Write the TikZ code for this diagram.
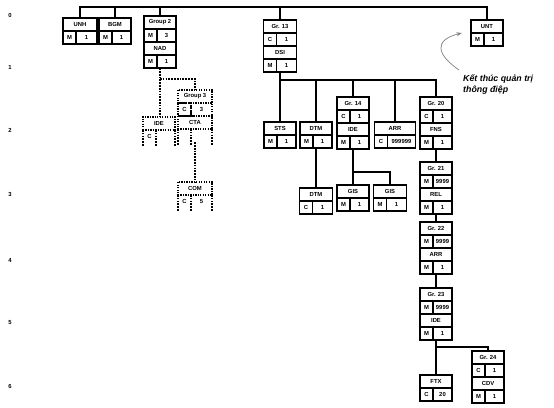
\documentclass[tikz,border=0pt]{standalone}
\usepackage{fontspec}
\setmainfont{Liberation Sans}
\usetikzlibrary{arrows.meta,fit}
\tikzset{
  ln/.style={line width=1.2pt},
  opt/.style={densely dotted,line width=1.4pt},
  hd/.style={draw,line width=1.1pt,inner sep=0pt,outer sep=0pt,minimum height=13*0.03cm,font=\fontsize{5}{6}\selectfont\bfseries},
  cel/.style={hd},
  lead/.style={gray,line width=0.6pt,-{Stealth[length=1.6mm]}},
  note/.style={align=left,inner sep=0pt,font=\fontsize{7.5}{9}\selectfont\bfseries\itshape},
  lvl/.style={font=\fontsize{5}{6}\selectfont\bfseries}
}
% segment box: [width] name, (top centre), label, status, repeat
\newcommand{\segbox}[6][32]{%
  \node[hd,minimum width={#1*0.03cm},anchor=north] (#2h) at #3 {#4};
  \node[cel,minimum width={13*0.03cm},anchor=north west] (#2s) at (#2h.south west) {#5};
  \node[cel,minimum width={(#1-13)*0.03cm},anchor=north west] (#2r) at (#2s.north east) {#6};
  \node[fit=(#2h)(#2s)(#2r),inner sep=0pt] (#2) {};}
% same, dotted and open at the bottom (conditional)
\newcommand{\osegbox}[6][32]{%
  \node[hd,opt,minimum width={#1*0.03cm},anchor=north] (#2h) at #3 {#4};
  \node[cel,draw=none,minimum width={13*0.03cm},anchor=north west] (#2s) at (#2h.south west) {#5};
  \node[cel,draw=none,minimum width={(#1-13)*0.03cm},anchor=north west] (#2r) at (#2s.north east) {#6};
  \node[fit=(#2h)(#2s)(#2r),inner sep=0pt] (#2) {};
  \draw[opt] (#2s.north west) -- ++(0,16) (#2s.north east) -- ++(0,16) (#2r.north east) -- ++(0,16);}

\begin{document}
\begin{tikzpicture}[x=0.03cm,y=-0.03cm]
\useasboundingbox (0,0) rectangle (554,407);
\foreach \i/\y in {0/15,1/67,2/130,3/194,4/260,5/323,6/386}
  \node[lvl] (lv\i) at (10,\y) {\i};

% level 0
\segbox[34]{unh}{(80,18)}{UNH}{M}{1}
\segbox{bgm}{(115,18)}{BGM}{M}{1}
\segbox{gp2}{(160,16)}{Group 2}{M}{3}
\segbox{nad}{(gp2h.south |- gp2s.south)}{NAD}{M}{1}
\segbox[33]{gr13}{(280,20)}{Gr. 13}{C}{1}
\segbox[33]{dsi}{(gr13h.south |- gr13s.south)}{DSI}{M}{1}
\segbox{unt}{(487,20)}{UNT}{M}{1}

% group 2 (conditional)
\osegbox{ide1}{(159,117)}{IDE}{C}{}
\begin{scope}[hd/.append style={opt}]
\segbox[34]{gp3}{(195,90)}{Group 3}{C}{3}
\end{scope}
\osegbox[34]{cta}{(gp3h.south |- gp3s.south)}{CTA}{}{}
\osegbox[34]{com}{(195,182)}{COM}{C}{5}

% group 13
\segbox{sts}{(280,122)}{STS}{M}{1}
\segbox{dtm}{(316,122)}{DTM}{M}{1}
\segbox{gr14}{(353,97)}{Gr. 14}{C}{1}
\segbox{ide2}{(gr14h.south |- gr14s.south)}{IDE}{M}{1}
\segbox[41]{arr}{(395,122)}{ARR}{C}{999999}
\segbox{gr20}{(436,97)}{Gr. 20}{C}{1}
\segbox{fns}{(gr20h.south |- gr20s.south)}{FNS}{M}{1}
\segbox[33]{dtm2}{(316,188)}{DTM}{C}{1}
\segbox{gis1}{(353,185)}{GIS}{M}{1}
\segbox[33]{gis2}{(390,185)}{GIS}{M}{1}
\segbox{gr21}{(436,162)}{Gr. 21}{M}{9999}
\segbox{rel}{(gr21h.south |- gr21s.south)}{REL}{M}{1}
\segbox{gr22}{(436,222)}{Gr. 22}{M}{9999}
\segbox{arr2}{(gr22h.south |- gr22s.south)}{ARR}{M}{1}
\segbox{gr23}{(436,288)}{Gr. 23}{M}{9999}
\segbox{ide3}{(gr23h.south |- gr23s.south)}{IDE}{M}{1}
\segbox{ftx}{(436,375)}{FTX}{C}{20}
\segbox{gr24}{(488,351)}{Gr. 24}{C}{1}
\segbox{cdv}{(gr24h.south |- gr24s.south)}{CDV}{M}{1}

% connectors
\coordinate (rt) at (0,7);
\coordinate (j2) at (0,79);
\coordinate (j13) at (0,80);
\coordinate (j14) at (0,172);
\coordinate (j23) at (0,347);
\draw[ln] (unh.north) -- (unh.north |- rt) -| (unt.north);
\foreach \b in {bgm,gp2,gr13}
  \draw[ln] (\b.north) -- (\b.north |- rt);
\draw[opt] (nad.south) -- (nad.south |- ide1.north);
\draw[opt] (nad.south |- j2) -| (gp3.north);
\draw[opt] (cta.south) -- (com.north);
\draw[ln] (dsi.south) -- (dsi.south |- j13) -| (gr20.north);
\foreach \b in {sts,dtm,gr14,arr}
  \draw[ln] (\b.north) -- (\b.north |- j13);
\draw[ln] (dtm.south) -- (dtm2.north);
\draw[ln] (ide2.south) -- (gis1.north);
\draw[ln] (ide2.south |- j14) -| (gis2.north);
\draw[ln] (fns.south) -- (gr21.north);
\draw[ln] (rel.south) -- (gr22.north);
\draw[ln] (arr2.south) -- (gr23.north);
\draw[ln] (ide3.south) -- (ftx.north);
\draw[ln] (ide3.south |- j23) -| (gr24.north);

% note
\node[note,anchor=north west] (kt) at (463,75) {Kết thúc quản trị\\thông điệp};
\coordinate (ks) at ([shift={(-0.12cm,0.15cm)}]kt.north west);
\coordinate (ut) at ([xshift=-0.27cm]unt.west);
\draw[lead] (ks) .. controls (436,54) and (434,40) .. (ut);
\end{tikzpicture}
\end{document}
